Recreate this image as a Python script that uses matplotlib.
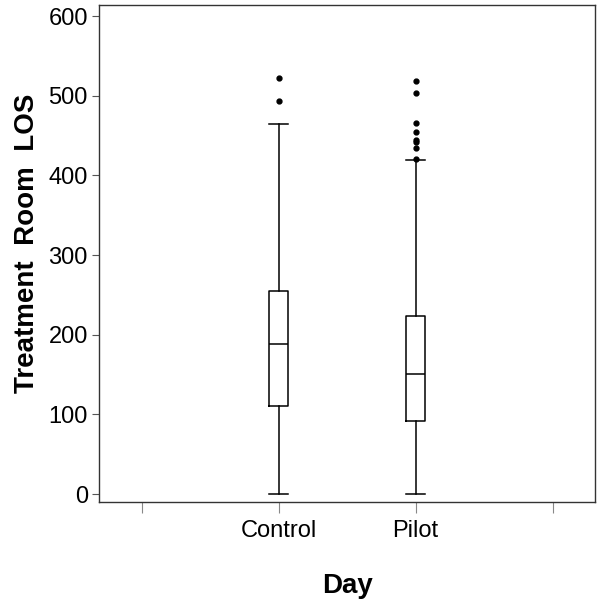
import numpy as np
import matplotlib
matplotlib.use("Agg")
import matplotlib.pyplot as plt

# 데이터
groups      = ["Control", "Pilot"]
q1          = [110, 92]
median      = [188, 151]
q3          = [255, 224]
whisker_lo  = [0, 0]
whisker_hi  = [464, 419]
outliers    = [
    [494, 522],
    [421, 434, 442, 444, 455, 466, 503, 518],
]
tick_labels = ["", "Control", "Pilot", ""]

plt.rcParams['font.family'] = ['Liberation Sans', 'DejaVu Sans']

fig = plt.figure(figsize=(6.02, 6.05), dpi=100)
ax = fig.add_axes([0.1645, 0.1702, 0.824, 0.8215])

stats = []
for i, g in enumerate(groups):
    stats.append({
        'label': g, 'med': median[i], 'q1': q1[i], 'q3': q3[i],
        'whislo': whisker_lo[i], 'whishi': whisker_hi[i],
        'fliers': np.array(outliers[i]),
    })

ax.bxp(stats, positions=[1, 2], widths=0.14, showfliers=True,
       boxprops=dict(color='black', linewidth=1.1),
       medianprops=dict(color='black', linewidth=1.1),
       whiskerprops=dict(color='black', linewidth=1.1),
       capprops=dict(color='black', linewidth=1.1),
       capwidths=0.14,
       flierprops=dict(marker='o', markerfacecolor='black', markeredgecolor='black',
                       markersize=3.5, linestyle='none'))

ax.set_xlim(-0.31, 3.31)
ax.set_ylim(-10, 614)
ax.set_xticks([0, 1, 2, 3])
ax.set_xticklabels(tick_labels, fontsize=17)
ax.set_yticks(np.arange(0, 601, 100))
ax.tick_params(axis='y', labelsize=17, length=5, color='#555555', pad=3)
ax.tick_params(axis='x', length=8, color='#888888', pad=5)

for s in ax.spines.values():
    s.set_color('#333333')
    s.set_linewidth(1.0)

ax.set_xlabel("Day", fontsize=20, fontweight='bold', labelpad=22)
ax.set_ylabel("Treatment  Room  LOS", fontsize=20, fontweight='bold')
ax.yaxis.set_label_coords(-0.118, 0.52)

plt.savefig("out.png", dpi=100)
plt.close()
